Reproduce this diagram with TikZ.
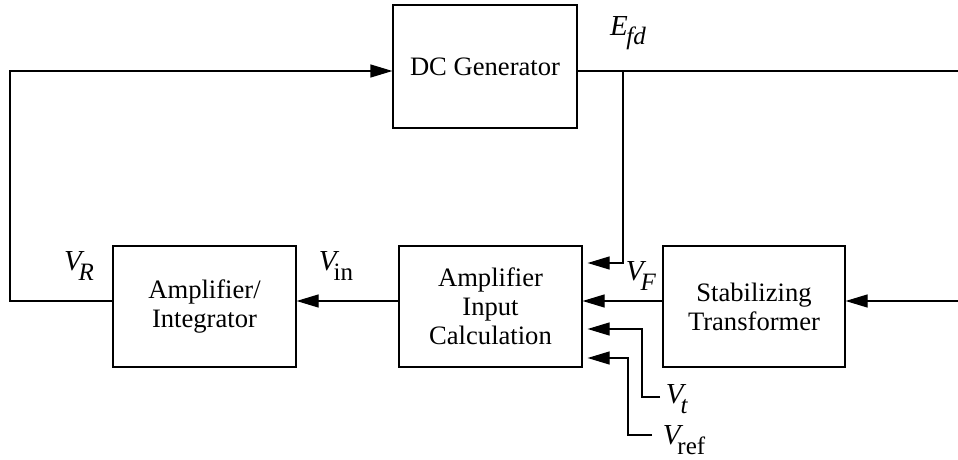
\documentclass[tikz,border=0pt]{standalone}
\usepackage{fontspec}
\setmainfont{Liberation Serif}
\usetikzlibrary{arrows.meta}
\newcommand\lbl[2]{\textit{#1}\kern-0.2em\raisebox{-0.8ex}{\fontsize{12.5}{12.5}\selectfont #2}}
\begin{document}
\begin{tikzpicture}[x=0.5pt,y=-0.5pt, font=\fontsize{13.3}{14.5}\selectfont,
  blk/.style={draw, line width=0.6pt, inner sep=0pt, align=center},
  ln/.style={line width=0.6pt},
  arr/.style={ln, -{Triangle[length=11pt,width=6.5pt]}},
  lab/.style={inner sep=0pt, font=\fontsize{14.5}{14.5}\selectfont}]
\useasboundingbox (0,0) rectangle (958,460);
% blocks
\node[blk, minimum width=92pt, minimum height=61.5pt] (dc) at (485,66.5) {DC Generator};
\node[blk, minimum width=91.5pt, minimum height=60.5pt] (amp) at (204.5,306.5) {Amplifier/\\Integrator};
\node[blk, minimum width=91.5pt, minimum height=60.5pt] (aic) at (490.5,306.5) {Amplifier\\Input\\Calculation};
\node[blk, minimum width=91pt, minimum height=60.5pt] (stab) at (754,306.5) {Stabilizing\\Transformer};
% reference rows
\coordinate (rtop) at (0,71);
\coordinate (rmid) at (0,301);
\coordinate (rfd) at (0,263);
\coordinate (rvt) at (0,329);
\coordinate (rvr) at (0,358);
\coordinate (outE) at (958,71);
\coordinate (inS) at (958,301);
\coordinate (j) at (623,71);
\coordinate (lc) at (10,71);
\coordinate (vt) at (660,397);
\coordinate (vr) at (652,435);
% connectors
\draw[ln] (dc.east |- rtop) -- (outE);
\draw[arr, shorten >=2.5pt] (j) |- (aic.east |- rfd);
\draw[arr] (inS) -- (stab.east |- rmid);
\draw[arr] (stab.west |- rmid) -- (aic.east |- rmid);
\draw[arr] (aic.west |- rmid) -- (amp.east |- rmid);
\draw[arr] (amp.west |- rmid) -| (lc) -- (dc.west |- rtop);
\draw[arr, shorten >=2.5pt] (vt) -- ++(-18,0) |- (aic.east |- rvt);
\draw[arr, shorten >=2.5pt] (vr) -- ++(-24,0) |- (aic.east |- rvr);
% labels
\node[lab] (lE) at (628,33) {\textit{E}\kern-0.05em\raisebox{-0.7ex}{\fontsize{12.5}{12.5}\selectfont\textit{fd}}};
\node[lab] (lF) at (641,276) {\lbl{V}{\textit{F}}};
\node[lab] (lt) at (677,399) {\lbl{V}{\textit{t}}};
\node[lab] (lref) at (684,440) {\lbl{V}{ref}};
\node[lab] (lR) at (79,266) {\lbl{V}{\textit{R}}};
\node[lab] (lin) at (336,266) {\lbl{V}{in}};
\end{tikzpicture}
\end{document}
